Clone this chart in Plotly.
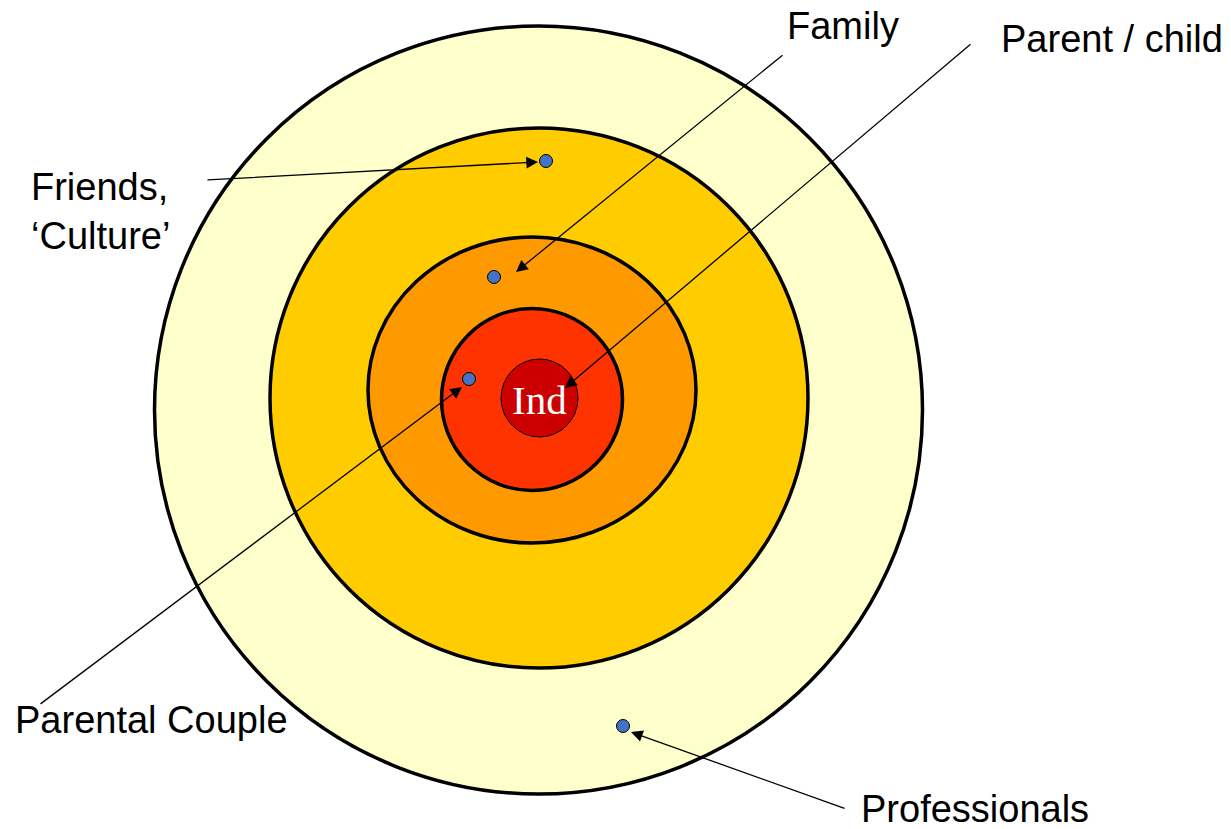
import plotly.graph_objects as go

# ---- data (page pixel coordinates, y grows downward) ----
ring_names = ["Professionals", "Friends", "Family", "Parental couple", "Individual"]
ring_cx = [538.5, 539, 532, 532, 539.5]
ring_cy = [410, 398, 390, 399.5, 398]
ring_rx = [384, 269, 164, 90.5, 38.5]
ring_ry = [384, 270, 153, 91, 39]
ring_colors = ["#FFFFCC", "#FFCC00", "#FF9900", "#FF3300", "#CC0000"]
ring_line_w = [3.5, 3.5, 3.5, 3.5, 1]

dot_names = ["Friends", "Family", "Parental Couple", "Professionals"]
dot_x = [546, 494, 469, 623]
dot_y = [161, 277, 379, 726]

label_texts = ["Friends,<br>‘Culture’", "Family", "Parent / child", "Parental Couple", "Professionals"]
label_x = [30, 786, 1000, 14, 860]
label_y = [211, 26, 39, 720, 809]

# arrows: (tail -> head)
arrow_tail_x = [206, 784, 972, 39, 846]
arrow_tail_y = [180, 54, 43, 705, 809]
arrow_head_x = [538, 516, 565, 462, 631]
arrow_head_y = [162, 272, 388, 387, 732]

center_label = "Ind"

# ---- figure ----
fig = go.Figure()

shapes = []
for cx, cy, rx, ry, col, lw in zip(ring_cx, ring_cy, ring_rx, ring_ry, ring_colors, ring_line_w):
    shapes.append(dict(type="circle", xref="x", yref="y",
                       x0=cx - rx, x1=cx + rx, y0=cy - ry, y1=cy + ry,
                       fillcolor=col, line=dict(color="black", width=lw), layer="below"))

fig.add_trace(go.Scatter(x=dot_x, y=dot_y, mode="markers", text=dot_names,
                         marker=dict(size=13, color="#4472C4", line=dict(color="black", width=1)),
                         hoverinfo="text", showlegend=False))

annotations = []
for tx, ty, hx, hy in zip(arrow_tail_x, arrow_tail_y, arrow_head_x, arrow_head_y):
    annotations.append(dict(x=hx, y=hy, ax=tx, ay=ty, xref="x", yref="y", axref="x", ayref="y",
                            text="", showarrow=True, arrowhead=2, arrowsize=1.8, arrowwidth=1.3,
                            arrowcolor="black", standoff=0, startstandoff=0))

for t, x, y in zip(label_texts, label_x, label_y):
    annotations.append(dict(x=x, y=y, xref="x", yref="y", text=t, showarrow=False,
                            xanchor="left", yanchor="middle", align="left", borderpad=0,
                            font=dict(family="Liberation Sans, Arial, sans-serif", size=38, color="black")))

annotations.append(dict(x=ring_cx[-1], y=ring_cy[-1] + 2, xref="x", yref="y", text=center_label,
                        showarrow=False, xanchor="center", yanchor="middle",
                        font=dict(family="Liberation Serif, Times New Roman, serif", size=41, color="white")))

fig.update_layout(
    width=1231, height=829,
    margin=dict(l=0, r=0, t=0, b=0, pad=0),
    paper_bgcolor="white", plot_bgcolor="white",
    shapes=shapes, annotations=annotations,
    xaxis=dict(range=[0, 1231], visible=False, fixedrange=True),
    yaxis=dict(range=[829, 0], visible=False, fixedrange=True),
    showlegend=False,
)

fig.write_html("out.html", config={"displayModeBar": False},
               post_script="document.body.style.margin='0px';document.body.style.overflow='hidden';")
